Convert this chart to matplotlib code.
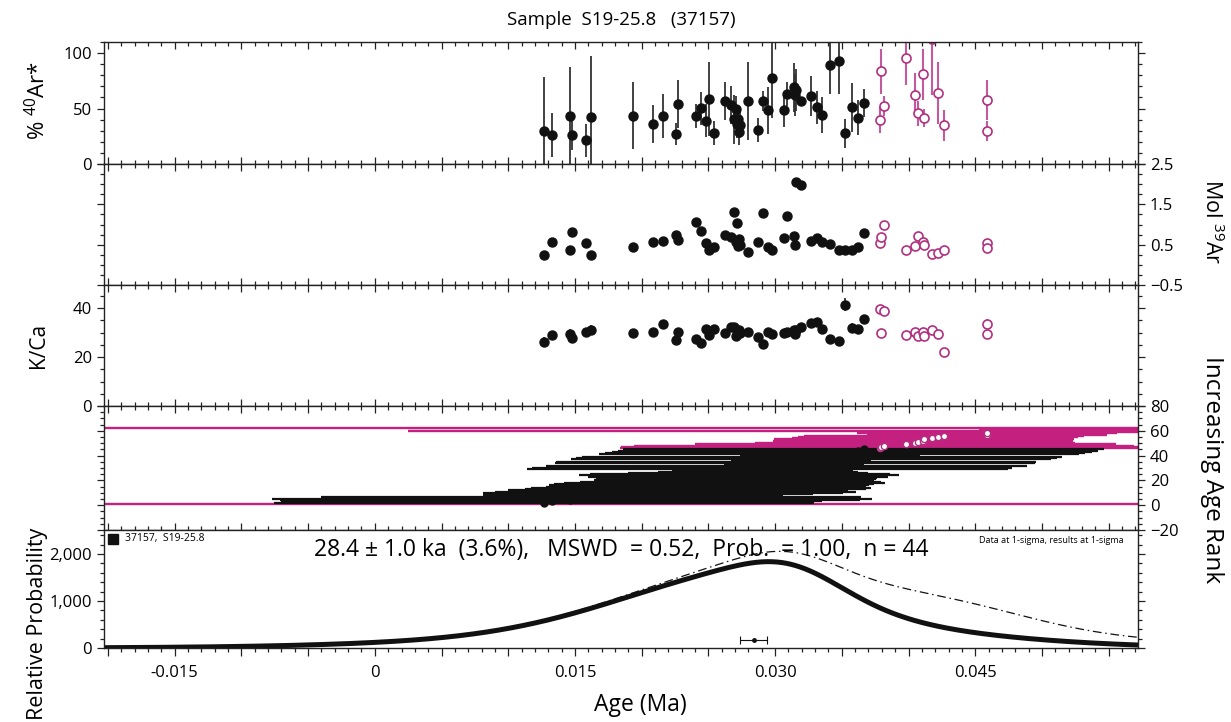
import numpy as np
import matplotlib.pyplot as plt
from matplotlib.ticker import MultipleLocator, FixedLocator, FuncFormatter

plt.rcParams['font.family'] = ['Open Sans', 'DejaVu Sans']
plt.rcParams['mathtext.fontset'] = 'custom'
plt.rcParams['mathtext.rm'] = 'Open Sans'

# included steps (black), age in Ma, errors 1-sigma
age_inc = [0.01269, 0.01325, 0.01464, 0.01479, 0.01582, 0.01619, 0.01932, 0.02086, 0.02157, 0.02254,
           0.02271, 0.02404, 0.02444, 0.02481, 0.02504, 0.02544, 0.02621, 0.02666, 0.02693, 0.02706,
           0.02711, 0.02723, 0.02729, 0.02736, 0.02798, 0.02873, 0.02906, 0.02944, 0.02978, 0.03068,
           0.03086, 0.03141, 0.03148, 0.03156, 0.03196, 0.03271, 0.03311, 0.03351, 0.03411, 0.03481,
           0.03523, 0.03576, 0.03621, 0.03663]
age_inc_err = [0.0135, 0.0135, 0.0145, 0.0150, 0.0100, 0.0135, 0.0075, 0.0080, 0.0090, 0.0090, 0.0085,
               0.0085, 0.0085, 0.0080, 0.0080, 0.0080, 0.0080, 0.0075, 0.0070, 0.0070, 0.0070, 0.0075,
               0.0080, 0.0075, 0.0060, 0.0050, 0.0045, 0.0120, 0.0120, 0.0035, 0.0120, 0.0035, 0.0120,
               0.0120, 0.0035, 0.0120, 0.0120, 0.0120, 0.0045, 0.0120, 0.0120, 0.0120, 0.0120, 0.0120]
ar40_inc = [29.7, 25.9, 43.5, 25.9, 21.4, 42.6, 43.5, 36.0, 43.5, 26.8, 54.1, 43.5, 50.2, 39.0, 58.6,
            27.7, 56.8, 53.2, 40.3, 49.3, 35.8, 40.3, 29.1, 35.0, 56.8, 30.6, 56.8, 48.4, 77.2, 48.4,
            63.3, 69.1, 62.2, 66.7, 56.8, 61.3, 51.1, 44.4, 89.2, 93.1, 27.7, 51.1, 41.7, 55.0]
ar40_inc_err = [49, 20, 44, 13, 15, 55, 30, 17, 20, 10, 22, 11, 15, 15, 33, 11, 17, 17, 22, 12, 12, 12,
                12, 12, 35, 11, 9, 21, 36, 15, 11, 22, 19, 19, 4, 18, 15, 16, 26, 30, 13, 22, 16, 13]
mol39_inc = [0.25, 0.57, 0.36, 0.82, 0.54, 0.25, 0.43, 0.57, 0.59, 0.75, 0.62, 1.05, 0.85, 0.54, 0.38,
             0.43, 0.75, 0.70, 1.31, 0.57, 1.03, 0.46, 0.64, 0.50, 0.33, 0.57, 1.28, 0.43, 0.36, 0.67,
             1.20, 0.71, 0.49, 2.05, 1.97, 0.59, 0.67, 0.57, 0.52, 0.36, 0.38, 0.36, 0.43, 0.78]
kca_inc = [26.2, 28.9, 29.5, 28.0, 30.3, 31.0, 29.8, 30.3, 33.7, 26.9, 30.3, 27.3, 25.7, 31.4, 29.1,
           31.5, 29.9, 32.4, 32.4, 28.7, 31.1, 30.0, 31.1, 30.0, 30.2, 28.4, 25.2, 30.4, 29.5, 29.8,
           30.4, 31.1, 29.3, 31.1, 32.4, 33.9, 34.3, 31.5, 27.3, 26.7, 41.5, 31.8, 31.4, 35.7]
kca_inc_err = [2.0, 1.5, 1.8, 1.5, 1.5, 2.0, 1.2, 1.2, 1.5, 1.2, 1.2, 1.2, 1.2, 1.5, 1.2, 1.5, 1.2, 1.5,
               1.5, 1.2, 1.5, 1.2, 1.2, 1.2, 1.2, 1.2, 1.5, 1.2, 1.2, 1.2, 1.2, 1.5, 1.5, 1.2, 1.2, 1.5,
               1.5, 1.5, 1.2, 1.5, 2.8, 2.0, 1.5, 1.5]

# excluded steps (magenta)
age_exc = [0.03786, 0.03793, 0.03816, 0.03978, 0.04048, 0.04073, 0.04110, 0.04118, 0.04173, 0.04220,
           0.04265, 0.04586, 0.04590]
age_exc_err = [0.0130, 0.0130, 0.0125, 0.0105, 0.0080, 0.0050, 0.0075, 0.0075, 0.0070, 0.0070,
               0.0070, 0.0060, 0.0065]
ar40_exc = [39.6, 83.5, 52.0, 95.8, 62.2, 45.7, 80.8, 41.7, 113.0, 64.0, 35.1, 57.7, 29.7]
ar40_exc_err = [12, 20, 9, 25, 20, 11, 23, 8, 51, 28, 14, 18, 9]
mol39_exc = [0.54, 0.68, 0.98, 0.38, 0.46, 0.71, 0.57, 0.49, 0.28, 0.30, 0.36, 0.54, 0.41]
kca_exc = [39.5, 29.8, 38.9, 28.9, 30.2, 28.7, 30.4, 28.7, 31.0, 29.5, 21.9, 33.5, 29.5]
kca_exc_err = [1.8, 1.2, 1.5, 1.5, 1.2, 1.2, 1.5, 1.2, 1.8, 1.2, 1.5, 2.0, 1.2]

# excluded steps whose ages fall outside the plotted range
age_off = [-0.050, 0.062, 0.070, 0.085, 0.120]
age_off_err = [0.080, 0.0075, 0.0450, 0.0265, 0.100]

# weighted mean result
wm_age, wm_err = 0.0284, 0.0010

blk = '#111111'
mag = '#b0307f'
mag_bar = '#c45a9e'
mag_rank = '#c4207f'
xlim = (-0.0203, 0.0572)

fig = plt.figure(figsize=(12.31, 7.22), dpi=100)
def box(top, bot):
    return [104 / 1231, 1 - bot / 722, (1138 - 104) / 1231, (bot - top) / 722]

ax1 = fig.add_axes(box(42, 164))
ax2 = fig.add_axes(box(164, 285), sharex=ax1)
ax3 = fig.add_axes(box(285, 406), sharex=ax1)
ax4 = fig.add_axes(box(406, 530), sharex=ax1)
ax5 = fig.add_axes(box(530, 648), sharex=ax1)
axes = [ax1, ax2, ax3, ax4, ax5]

# % 40Ar*
ax1.errorbar(age_inc, ar40_inc, yerr=ar40_inc_err, fmt='o', ms=6.5, color=blk,
             ecolor='#333333', elinewidth=1.3)
ax1.errorbar(age_exc, ar40_exc, yerr=ar40_exc_err, fmt='o', ms=6.5, mfc='white', mec=mag,
             mew=1.2, ecolor=mag_bar, elinewidth=1.5)
ax1.set_ylim(0, 110)

# Mol 39Ar
ax2.plot(age_inc, mol39_inc, 'o', ms=6.5, color=blk)
ax2.plot(age_exc, mol39_exc, 'o', ms=6.5, mfc='white', mec=mag, mew=1.2)
ax2.set_ylim(-0.5, 2.5)

# K/Ca
ax3.errorbar(age_inc, kca_inc, yerr=kca_inc_err, fmt='o', ms=6.5, color=blk,
             ecolor='#333333', elinewidth=1.3)
ax3.errorbar(age_exc, kca_exc, yerr=kca_exc_err, fmt='o', ms=6.5, mfc='white', mec=mag,
             mew=1.2, ecolor=mag_bar, elinewidth=1.3)
ax3.set_ylim(0, 49.5)

# age rank
all_age = np.concatenate([age_inc, age_exc, age_off])
all_err = np.concatenate([age_inc_err, age_exc_err, age_off_err])
rank = np.empty(len(all_age))
rank[np.argsort(all_age)] = np.arange(1, len(all_age) + 1)
n_inc = len(age_inc)
n_exc = len(age_exc)
half = 1.5 * all_err
ax4.hlines(rank[n_inc:], all_age[n_inc:] - half[n_inc:], all_age[n_inc:] + half[n_inc:],
           color=mag_rank, lw=1.7)
ax4.hlines(rank[:n_inc], all_age[:n_inc] - half[:n_inc], all_age[:n_inc] + half[:n_inc],
           color=blk, lw=1.6)
ax4.plot(age_inc, rank[:n_inc], 'o', ms=5, color=blk)
ax4.plot(age_exc, rank[n_inc:n_inc + n_exc], 'o', ms=4.5, mfc='white', mec=mag, mew=1)
ax4.set_ylim(-20, 80)

# relative probability
xs = np.linspace(xlim[0], xlim[1], 800)
def prob(ages, errs):
    a = np.asarray(ages)[:, None]
    s = np.asarray(errs)[:, None]
    return (np.exp(-0.5 * ((xs - a) / s) ** 2) / (s * np.sqrt(2 * np.pi))).sum(axis=0)
ax5.plot(xs, prob(all_age, all_err), color=blk, lw=0.9, ls=(0, (7, 3, 1.2, 3)))
ax5.plot(xs, prob(age_inc, age_inc_err), color=blk, lw=3.6, solid_capstyle='butt')
ax5.errorbar([wm_age], [165], xerr=[wm_err], fmt='o', ms=2.5, color=blk, capsize=3,
             lw=0.8, capthick=0.8)
ax5.set_ylim(0, 2510)
ax5.set_xlim(*xlim)

def xfmt(v, p):
    if abs(v) < 1e-9:
        return '0'
    if abs(v / 0.015 - round(v / 0.015)) < 1e-6:
        return f'{v:.3f}'
    return ''

for ax in axes:
    ax.xaxis.set_major_locator(MultipleLocator(0.005))
    ax.xaxis.set_minor_locator(MultipleLocator(0.001))
    for sp in ax.spines.values():
        sp.set_linewidth(1.0)
        sp.set_color('#222222')
    ax.tick_params(which='both', color='#222222', labelsize=12, width=0.9)
    ax.tick_params(axis='y', which='both', direction='out', left=True, right=True)
    ax.tick_params(axis='y', which='major', length=5)
    ax.tick_params(axis='y', which='minor', length=3)
    if ax is not ax5:
        ax.tick_params(axis='x', which='both', direction='in', top=True, bottom=True,
                       labelbottom=False)
        ax.tick_params(axis='x', which='major', length=5)
        ax.tick_params(axis='x', which='minor', length=3)

ax5.tick_params(axis='x', which='both', direction='out', top=False, bottom=True, pad=6)
ax5.tick_params(axis='x', which='major', length=6)
ax5.tick_params(axis='x', which='minor', length=3)
ax5.xaxis.set_major_formatter(FuncFormatter(xfmt))

ax1.yaxis.set_major_locator(FixedLocator([0, 50, 100]))
ax1.yaxis.set_minor_locator(MultipleLocator(10))
ax2.yaxis.set_major_locator(FixedLocator([-0.5, 0.5, 1.5, 2.5]))
ax2.yaxis.set_minor_locator(MultipleLocator(0.25))
ax2.tick_params(axis='y', labelleft=False, labelright=True)
ax3.yaxis.set_major_locator(MultipleLocator(20))
ax3.yaxis.set_minor_locator(MultipleLocator(5))
ax4.yaxis.set_major_locator(MultipleLocator(20))
ax4.yaxis.set_minor_locator(MultipleLocator(5))
ax4.tick_params(axis='y', labelleft=False, labelright=True)
ax5.yaxis.set_major_locator(MultipleLocator(1000))
ax5.yaxis.set_minor_locator(MultipleLocator(200))
ax5.yaxis.set_major_formatter(FuncFormatter(lambda v, p: f'{v:,.0f}'))

# texts
fig.text(621 / 1231, 1 - 20 / 722, 'Sample  S19-25.8   (37157)', ha='center', va='center', fontsize=13.5)
fig.text(38 / 1231, 1 - 100 / 722, r'% $^{\mathrm{40}}$Ar*', rotation=90, ha='center', va='center', fontsize=16)
fig.text(38 / 1231, 1 - 345 / 722, 'K/Ca', rotation=90, ha='center', va='center', fontsize=15)
fig.text(38 / 1231, 1 - 624 / 722, 'Relative Probability', rotation=90, ha='center', va='center', fontsize=15.5)
fig.text(1212 / 1231, 1 - 222 / 722, r'Mol $^{\mathrm{39}}$Ar', rotation=-90, ha='center', va='center', fontsize=15.5)
fig.text(1212 / 1231, 1 - 470 / 722, 'Increasing Age Rank', rotation=-90, ha='center', va='center', fontsize=17.5)
fig.text(640 / 1231, 1 - 705 / 722, 'Age (Ma)', ha='center', va='center', fontsize=16.5)

ax5.text(0.5, 0.83, '28.4 ± 1.0 ka  (3.6%),   MSWD  = 0.52,  Prob.  = 1.00,  n = 44',
         transform=ax5.transAxes, ha='center', va='center', fontsize=16.5)
ax5.plot([0.009], [0.925], 's', ms=7, color=blk, transform=ax5.transAxes, clip_on=False)
ax5.text(0.02, 0.925, '37157,  S19-25.8', transform=ax5.transAxes, ha='left', va='center', fontsize=7.5)
ax5.text(0.986, 0.915, 'Data at 1-sigma, results at 1-sigma', transform=ax5.transAxes,
         ha='right', va='center', fontsize=6.5)

fig.savefig('out.png', dpi=100)
